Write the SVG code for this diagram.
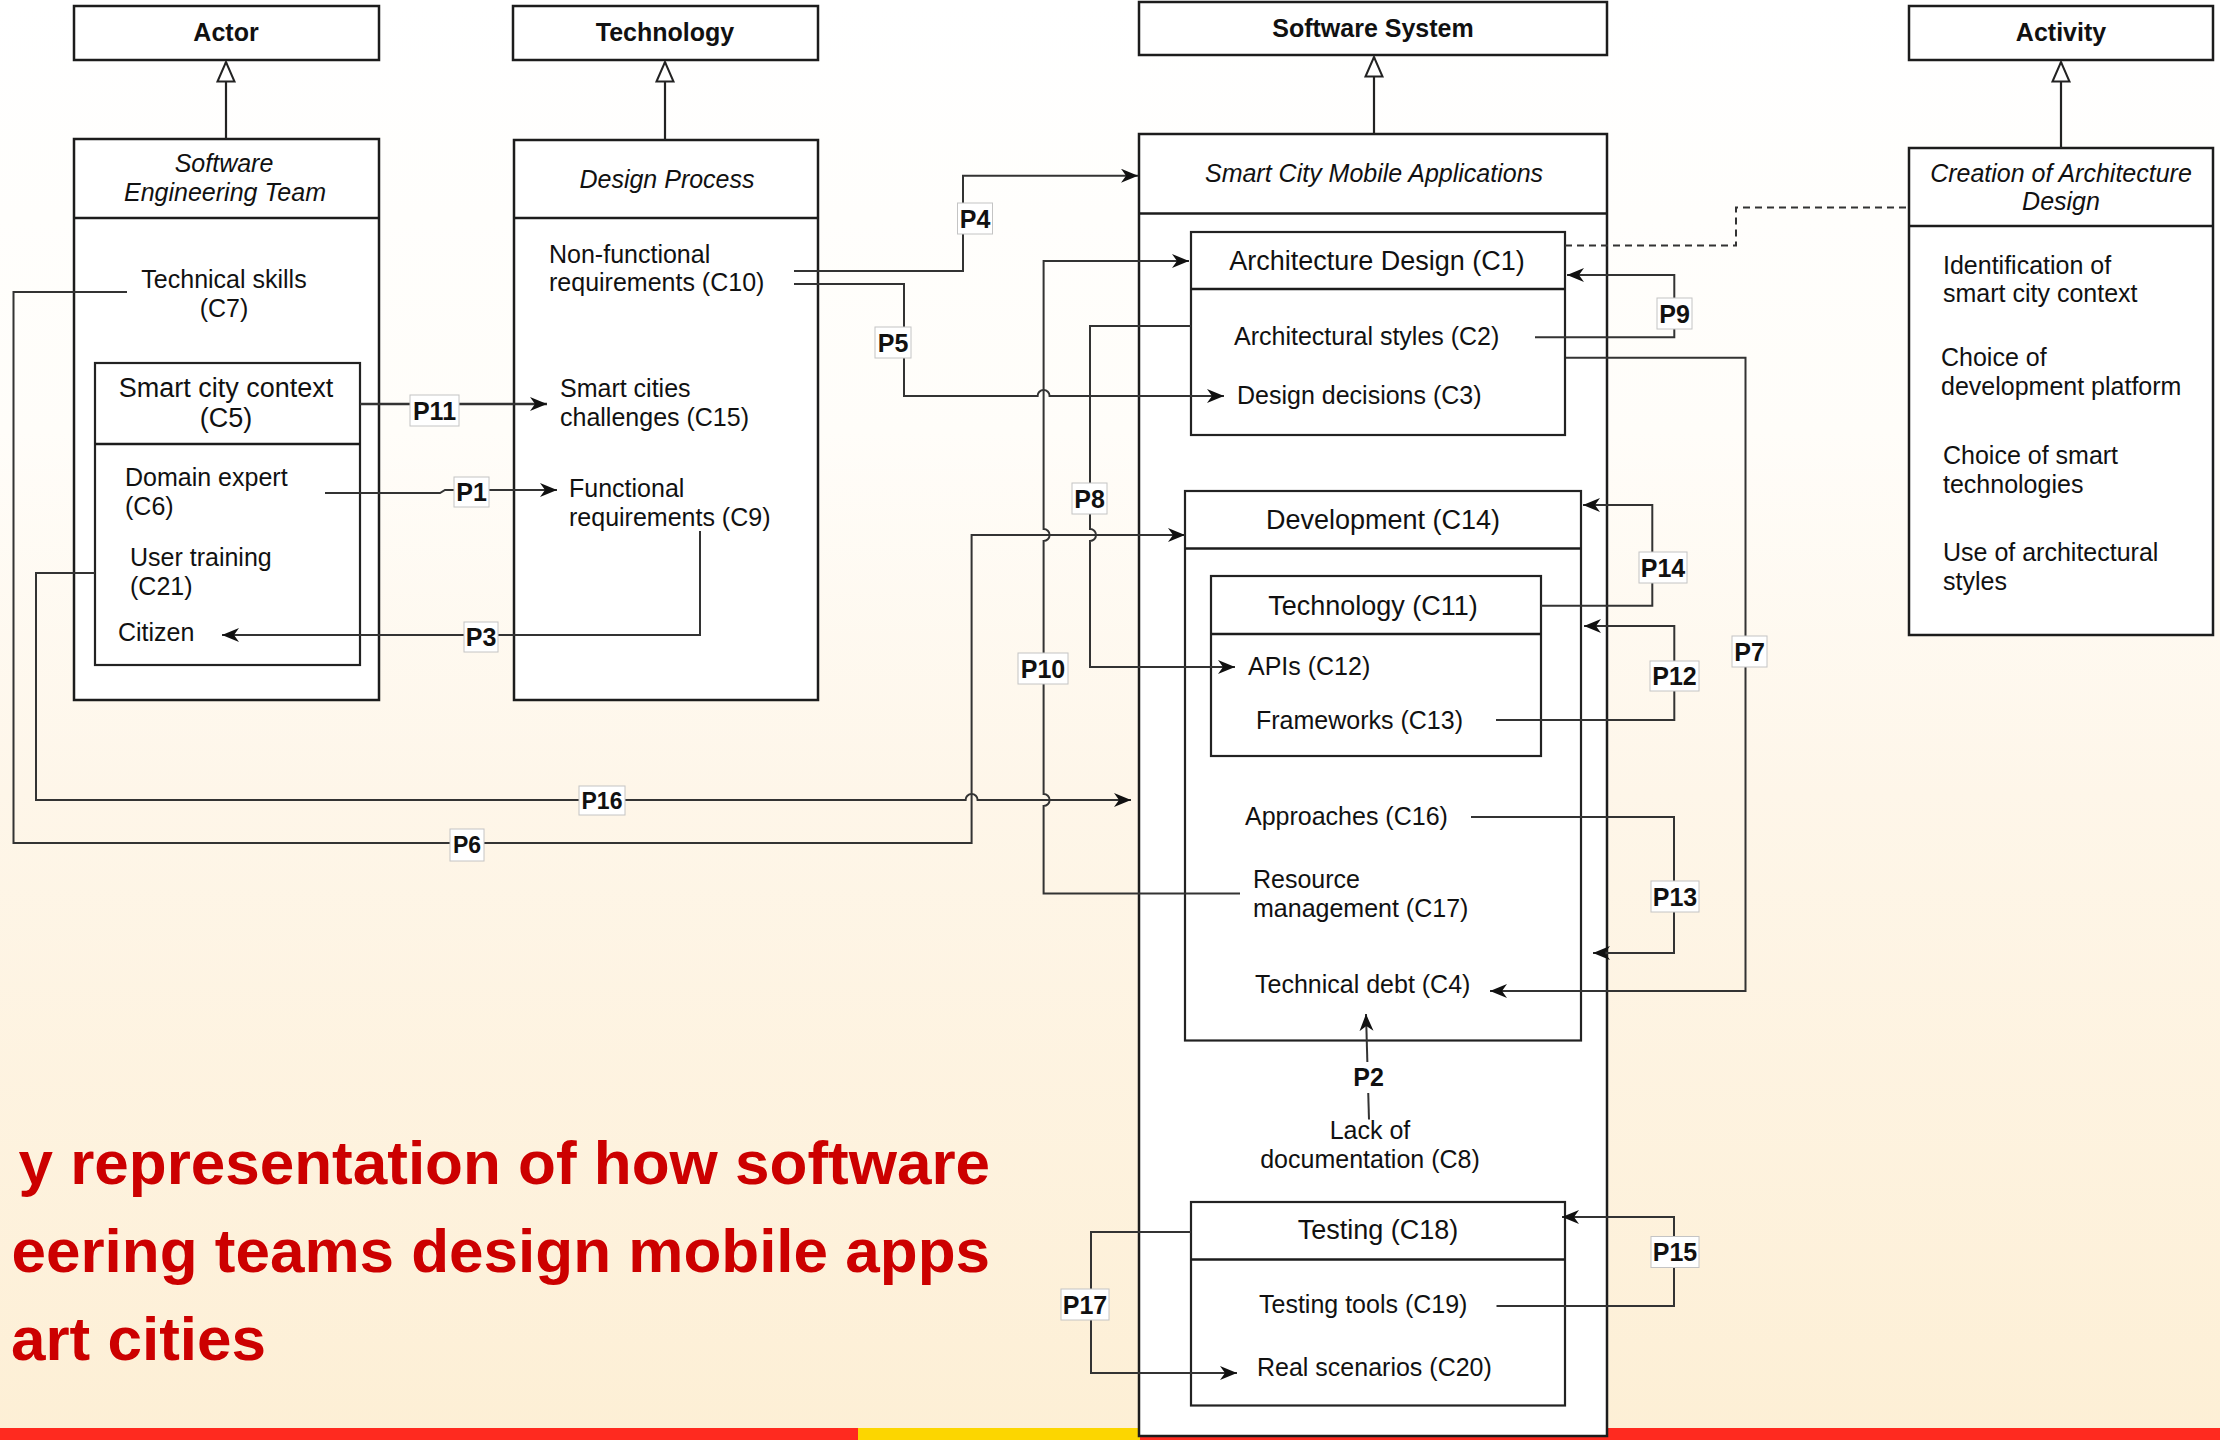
<svg xmlns="http://www.w3.org/2000/svg" width="2220" height="1440" viewBox="0 0 2220 1440">
  <style>
    text { font-family: "Liberation Sans", Arial, Helvetica, sans-serif; fill: #111; }
    .box { fill: #fff; stroke: #1c1c1c; stroke-width: 2.5; }
    .inner { fill: #fff; stroke: #222; stroke-width: 2.2; }
    .div { stroke: #1c1c1c; stroke-width: 2.5; fill: none; }
    .kind { font-size: 25px; font-weight: bold; text-anchor: middle; }
    .head { font-size: 25px; font-style: italic; text-anchor: middle; }
    .sub { font-size: 27px; text-anchor: middle; }
    .item { font-size: 25px; }
    .mid { text-anchor: middle; }
    .edge { fill: none; stroke: #333; stroke-width: 2; }
    .arrow { marker-end: url(#arr); }
    .gen { fill: none; stroke: #222; stroke-width: 2.2; marker-end: url(#inh); }
    .dash { fill: none; stroke: #333; stroke-width: 2; stroke-dasharray: 7 5; }
    .lbl rect { fill: #fff; stroke: #c4c4c4; stroke-width: 1; }
    .lbl text { font-size: 25px; font-weight: bold; text-anchor: middle; }
    .title { font-size: 62px; font-weight: bold; fill: #cc0000; }
  </style>
  <defs>
    <linearGradient id="bg" x1="0" y1="0" x2="0" y2="1">
      <stop offset="0" stop-color="#ffffff"/>
      <stop offset="0.3" stop-color="#fffdf9"/>
      <stop offset="0.55" stop-color="#fef6e9"/>
      <stop offset="1" stop-color="#fdefd5"/>
    </linearGradient>
    <marker id="arr" markerUnits="userSpaceOnUse" markerWidth="18" markerHeight="15" refX="17" refY="7" orient="auto">
      <path d="M0,0 L17,7 L0,14 L5,7 z" fill="#111"/>
    </marker>
    <marker id="inh" markerUnits="userSpaceOnUse" markerWidth="24" markerHeight="22" refX="21" refY="10" orient="auto">
      <path d="M1.5,1.5 L21,10 L1.5,18.5 z" fill="#fff" stroke="#222" stroke-width="2"/>
    </marker>
  </defs>

  <!-- page background and footer band -->
  <rect x="0" y="0" width="2220" height="1440" fill="url(#bg)"/>
  <rect x="0" y="1428" width="858" height="12" fill="#ff2a1f"/>
  <rect x="858" y="1428" width="282" height="12" fill="#fcd600"/>
  <rect x="1140" y="1428" width="1080" height="12" fill="#ff2a1f"/>

  <!-- category boxes -->
  <g id="actor">
    <rect class="box" x="74" y="6" width="305" height="54"/>
    <text class="kind" x="226" y="41">Actor</text>
  </g>
  <g id="technology">
    <rect class="box" x="513" y="6" width="305" height="54"/>
    <text class="kind" x="665" y="41">Technology</text>
  </g>
  <g id="software-system">
    <rect class="box" x="1139" y="2" width="468" height="53"/>
    <text class="kind" x="1373" y="37">Software System</text>
  </g>
  <g id="activity">
    <rect class="box" x="1909" y="6" width="304" height="54"/>
    <text class="kind" x="2061" y="41">Activity</text>
  </g>

  <!-- Software Engineering Team -->
  <g id="se-team">
    <rect class="box" x="74" y="139" width="305" height="561"/>
    <line class="div" x1="74" y1="218" x2="379" y2="218"/>
    <text class="head" x="224" y="172">Software</text>
    <text class="head" x="225" y="201">Engineering Team</text>
    <text class="item mid" x="224" y="288">Technical skills</text>
    <text class="item mid" x="224" y="317">(C7)</text>
  </g>
  <g id="smart-city-context">
    <rect class="inner" x="95" y="363" width="265" height="302"/>
    <line class="div" x1="95" y1="444" x2="360" y2="444"/>
    <text class="sub" x="226" y="397">Smart city context</text>
    <text class="sub" x="226" y="427">(C5)</text>
    <text class="item" x="125" y="486">Domain expert</text>
    <text class="item" x="125" y="515">(C6)</text>
    <text class="item" x="130" y="566">User training</text>
    <text class="item" x="130" y="595">(C21)</text>
    <text class="item" x="118" y="641">Citizen</text>
  </g>

  <!-- Design Process -->
  <g id="design-process">
    <rect class="box" x="514" y="140" width="304" height="560"/>
    <line class="div" x1="514" y1="218" x2="818" y2="218"/>
    <text class="head" x="667" y="188">Design Process</text>
    <text class="item" x="549" y="263">Non-functional</text>
    <text class="item" x="549" y="291">requirements (C10)</text>
    <text class="item" x="560" y="397">Smart cities</text>
    <text class="item" x="560" y="426">challenges (C15)</text>
    <text class="item" x="569" y="497">Functional</text>
    <text class="item" x="569" y="526">requirements (C9)</text>
  </g>

  <!-- Smart City Mobile Applications -->
  <g id="mobile-apps">
    <rect class="box" x="1139" y="134" width="468" height="1302"/>
    <line class="div" x1="1139" y1="213.5" x2="1607" y2="213.5"/>
    <text class="head" x="1374" y="182">Smart City Mobile Applications</text>
    <text class="item mid" x="1370" y="1139">Lack of</text>
    <text class="item mid" x="1370" y="1168">documentation (C8)</text>
  </g>
  <g id="architecture-design">
    <rect class="inner" x="1191" y="232" width="374" height="203"/>
    <line class="div" x1="1191" y1="289" x2="1565" y2="289"/>
    <text class="sub" x="1377" y="270">Architecture Design (C1)</text>
    <text class="item" x="1234" y="345">Architectural styles (C2)</text>
    <text class="item" x="1237" y="404">Design decisions (C3)</text>
  </g>
  <g id="development">
    <rect class="inner" x="1185" y="491" width="396" height="549.5"/>
    <line class="div" x1="1185" y1="548.5" x2="1581" y2="548.5"/>
    <text class="sub" x="1383" y="529">Development (C14)</text>
    <text class="item" x="1245" y="825">Approaches (C16)</text>
    <text class="item" x="1253" y="888">Resource</text>
    <text class="item" x="1253" y="917">management (C17)</text>
    <text class="item" x="1255" y="993">Technical debt (C4)</text>
  </g>
  <g id="technology-c11">
    <rect class="inner" x="1211" y="576" width="330" height="180"/>
    <line class="div" x1="1211" y1="634" x2="1541" y2="634"/>
    <text class="sub" x="1373" y="615">Technology (C11)</text>
    <text class="item" x="1248" y="675">APIs (C12)</text>
    <text class="item" x="1256" y="729">Frameworks (C13)</text>
  </g>
  <g id="testing">
    <rect class="inner" x="1191" y="1202" width="374" height="203.5"/>
    <line class="div" x1="1191" y1="1259.5" x2="1565" y2="1259.5"/>
    <text class="sub" x="1378" y="1239">Testing (C18)</text>
    <text class="item" x="1259" y="1313">Testing tools (C19)</text>
    <text class="item" x="1257" y="1376">Real scenarios (C20)</text>
  </g>

  <!-- Creation of Architecture Design -->
  <g id="creation-activity">
    <rect class="box" x="1909" y="148" width="304" height="487"/>
    <line class="div" x1="1909" y1="226" x2="2213" y2="226"/>
    <text class="head" x="2061" y="182">Creation of Architecture</text>
    <text class="head" x="2061" y="210">Design</text>
    <text class="item" x="1943" y="274">Identification of</text>
    <text class="item" x="1943" y="302">smart city context</text>
    <text class="item" x="1941" y="366">Choice of</text>
    <text class="item" x="1941" y="395">development platform</text>
    <text class="item" x="1943" y="464">Choice of smart</text>
    <text class="item" x="1943" y="493">technologies</text>
    <text class="item" x="1943" y="561">Use of architectural</text>
    <text class="item" x="1943" y="590">styles</text>
  </g>

  <!-- connectors -->
  <g id="connectors">
    <!-- generalisation -->
    <path class="gen" d="M226,139 V62"/>
    <path class="gen" d="M665,140 V62"/>
    <path class="gen" d="M1374,134 V57"/>
    <path class="gen" d="M2061,148 V62"/>
    <!-- trace link to the activity -->
    <path class="dash" d="M1565,245.5 H1736 V207.5 H1909"/>
    <!-- numbered propositions -->
    <path class="edge arrow" d="M360,404 H547" style="stroke-width:2.6"/>
    <path class="edge arrow" d="M325,493 H440 L445,490 H557"/>
    <path class="edge arrow" d="M700,531 V635 H222"/>
    <path class="edge arrow" d="M794,271 H963 V175.7 H1138"/>
    <path class="edge arrow" d="M794,284 H904 V396 H1037.6 A6,6 0 0 1 1049.6,396 H1224"/>
    <path class="edge arrow" d="M127,292 H13.5 V843 H971.6 V535 H1185"/>
    <path class="edge arrow" d="M95,573 H36 V800 H965.6 A6,6 0 0 1 977.6,800 H1131"/>
    <path class="edge arrow" d="M1240,893.5 H1043.6 V806 A6,6 0 0 0 1043.6,794 V541 A6,6 0 0 0 1043.6,529 V261 H1189"/>
    <path class="edge arrow" d="M1191,326 H1090 V529 A6,6 0 0 1 1090,541 V667 H1235"/>
    <path class="edge arrow" d="M1566,357.7 H1745.5 V991 H1490"/>
    <path class="edge arrow" d="M1535,337.3 H1674.3 V275 H1567"/>
    <path class="edge arrow" d="M1541,605.7 H1652.3 V505 H1583"/>
    <path class="edge arrow" d="M1496,720 H1674.3 V626 H1584"/>
    <path class="edge arrow" d="M1471,817 H1674 V953 H1593"/>
    <path class="edge arrow" d="M1496.5,1306 H1674 V1217 H1562"/>
    <path class="edge arrow" d="M1191,1232 H1091 V1373 H1237"/>
    <path class="edge arrow" d="M1369,1119.5 L1366,1014"/>
  </g>

  <!-- proposition labels -->
  <g id="labels" class="lbl">
    <rect x="410" y="395" width="49" height="31"/><text x="434.5" y="419.5">P11</text>
    <rect x="454" y="477" width="35" height="30"/><text x="471.5" y="500.5">P1</text>
    <rect x="464" y="622" width="34" height="30"/><text x="481" y="645.5">P3</text>
    <rect x="957.5" y="203" width="35" height="31"/><text x="975" y="227.5">P4</text>
    <rect x="875" y="327" width="36" height="31"/><text x="893" y="351.5">P5</text>
    <rect x="1072" y="483" width="35" height="31"/><text x="1089.5" y="507.5">P8</text>
    <rect x="1018" y="653" width="50" height="31"/><text x="1043" y="677.5">P10</text>
    <rect x="1657" y="298" width="35" height="31"/><text x="1674.5" y="322.5">P9</text>
    <rect x="1639" y="552" width="48" height="31"/><text x="1663" y="576.5">P14</text>
    <rect x="1650" y="661" width="49" height="30"/><text x="1674.5" y="685">P12</text>
    <rect x="1732" y="636" width="35" height="31"/><text x="1749.5" y="660.5">P7</text>
    <rect x="1651" y="881" width="48" height="31"/><text x="1675" y="905.5">P13</text>
    <rect x="1651" y="1236.5" width="48" height="31"/><text x="1675" y="1261">P15</text>
    <rect x="1061" y="1289" width="48" height="31"/><text x="1085" y="1313.5">P17</text>
    <rect x="579" y="786" width="46" height="29"/><text x="602" y="808.5" style="font-size:23px">P16</text>
    <rect x="450" y="829" width="34" height="32"/><text x="467" y="853" style="font-size:23px">P6</text>
    <rect x="1352" y="1062" width="33" height="31" style="stroke:none"/><text x="1368.5" y="1086">P2</text>
  </g>

  <!-- caption -->
  <g id="caption">
    <text class="title" x="990" y="1184" text-anchor="end">y representation of how software</text>
    <text class="title" x="990" y="1272" text-anchor="end">eering teams design mobile apps</text>
    <text class="title" x="266" y="1360" text-anchor="end">art cities</text>
  </g>
</svg>
